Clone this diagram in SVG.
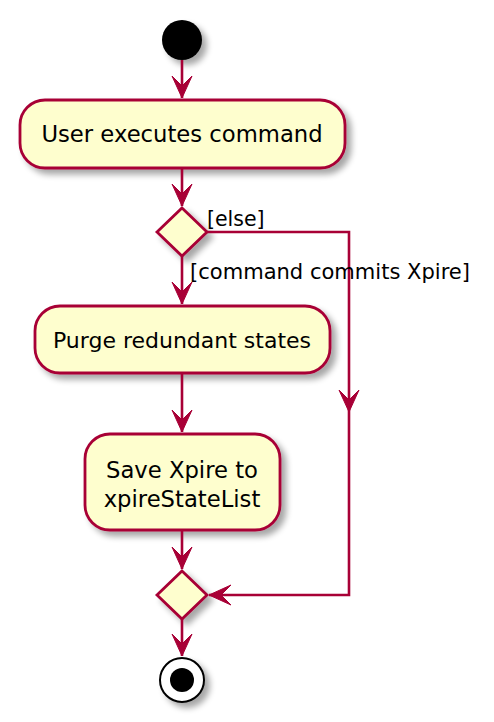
<svg xmlns="http://www.w3.org/2000/svg" width="494" height="722" viewBox="0 0 494 722">
<defs>
<filter id="sh" x="-20%" y="-20%" width="150%" height="150%">
<feGaussianBlur in="SourceAlpha" stdDeviation="3"/>
<feOffset dx="5" dy="5" result="b"/>
<feComponentTransfer><feFuncA type="linear" slope="0.35"/></feComponentTransfer>
<feMerge><feMergeNode/><feMergeNode in="SourceGraphic"/></feMerge>
</filter>
</defs>
<style>
.act{fill:#FEFECE;stroke:#A80036;stroke-width:2.8;}
.t{font-family:"DejaVu Sans",sans-serif;font-size:22.7px;fill:#000;text-anchor:middle;}
.lb{font-family:"DejaVu Sans",sans-serif;font-size:20.5px;fill:#000;}
.ln{fill:none;stroke:#A80036;stroke-width:2.6;}
.ah{fill:#A80036;stroke:#A80036;stroke-width:1;}
</style>
<g id="start"><circle cx="182" cy="40" r="20" fill="#000" filter="url(#sh)"/></g>
<g id="n1"><rect class="act" x="20" y="100" width="325" height="68" rx="25" filter="url(#sh)"/><text class="t" x="182" y="142">User executes command</text></g>
<g id="d1"><polygon class="act" points="182,208 207,232 182,256 157,232" filter="url(#sh)"/></g>
<g id="n2"><rect class="act" x="35" y="306" width="295" height="67" rx="25" filter="url(#sh)"/><text class="t" x="182" y="348" style="font-size:22px">Purge redundant states</text></g>
<g id="n3"><rect class="act" x="85" y="434" width="195" height="96" rx="25" filter="url(#sh)"/><text class="t" x="182" y="478">Save Xpire to</text><text class="t" x="182" y="507">xpireStateList</text></g>
<g id="d2"><polygon class="act" points="182,571 207,595 182,619 157,595" filter="url(#sh)"/></g>
<g id="end"><circle cx="182" cy="680" r="22" fill="#fff" stroke="#000" stroke-width="2" filter="url(#sh)"/><circle cx="182" cy="680" r="12" fill="#000"/></g>
<g id="connectors">
<line class="ln" x1="182" y1="60" x2="182" y2="98"/>
<polygon class="ah" points="172,76 182,98 192,76 182,86"/>
<line class="ln" x1="182" y1="168" x2="182" y2="206"/>
<polygon class="ah" points="172,184 182,206 192,184 182,194"/>
<line class="ln" x1="182" y1="256" x2="182" y2="304"/>
<polygon class="ah" points="172,282 182,304 192,282 182,292"/>
<line class="ln" x1="182" y1="373" x2="182" y2="432"/>
<polygon class="ah" points="172,410 182,432 192,410 182,420"/>
<line class="ln" x1="182" y1="530" x2="182" y2="569"/>
<polygon class="ah" points="172,547 182,569 192,547 182,557"/>
<line class="ln" x1="182" y1="619" x2="182" y2="656"/>
<polygon class="ah" points="172,634 182,656 192,634 182,644"/>
<polyline class="ln" points="207,232 349,232 349,595 209,595"/>
<polygon class="ah" points="339,390 349,412 359,390 349,400"/>
<polygon class="ah" points="231,585 209,595 231,605 221,595"/>
<text class="lb" x="207" y="226">[else]</text>
<text class="lb" x="190" y="279" textLength="280" lengthAdjust="spacingAndGlyphs">[command commits Xpire]</text>
</g>
</svg>
